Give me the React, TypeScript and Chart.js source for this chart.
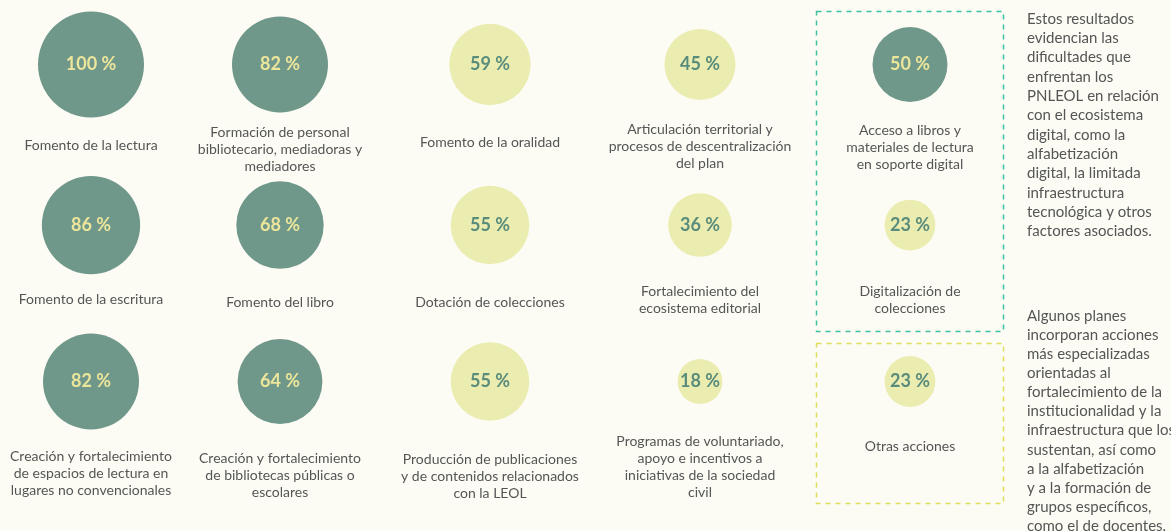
import React, { useEffect, useRef } from "react";
import { Chart, registerables } from "chart.js";
Chart.register(...registerables);

// ---- data ----
const categories: string[] = [
  "Fomento de la lectura",
  "Formación de personal\nbibliotecario, mediadoras y\nmediadores",
  "Fomento de la oralidad",
  "Articulación territorial y\nprocesos de descentralización\ndel plan",
  "Acceso a libros y\nmateriales de lectura\nen soporte digital",
  "Fomento de la escritura",
  "Fomento del libro",
  "Dotación de colecciones",
  "Fortalecimiento del\necosistema editorial",
  "Digitalización de\ncolecciones",
  "Creación y fortalecimiento\nde espacios de lectura en\nlugares no convencionales",
  "Creación y fortalecimiento\nde bibliotecas públicas o\nescolares",
  "Producción de publicaciones\ny de contenidos relacionados\ncon la LEOL",
  "Programas de voluntariado,\napoyo e incentivos a\niniciativas de la sociedad\ncivil",
  "Otras acciones",
];
const values: number[] = [100, 82, 59, 45, 50, 86, 68, 55, 36, 23, 82, 64, 55, 18, 23];
const columnIndex: number[] = [0, 1, 2, 3, 4, 0, 1, 2, 3, 4, 0, 1, 2, 3, 4];
const rowIndex: number[] = [0, 0, 0, 0, 0, 1, 1, 1, 1, 1, 2, 2, 2, 2, 2];
const group: string[] = [
  "dark", "dark", "light", "light", "dark",
  "dark", "dark", "light", "light", "light",
  "dark", "dark", "light", "light", "light",
];

const noteDigital: string[] = [
  "Estos resultados",
  "evidencian las",
  "dificultades que",
  "enfrentan los",
  "PNLEOL en relación",
  "con el ecosistema",
  "digital, como la",
  "alfabetización",
  "digital, la limitada",
  "infraestructura",
  "tecnológica y otros",
  "factores asociados.",
];
const noteInstitutional: string[] = [
  "Algunos planes",
  "incorporan acciones",
  "más especializadas",
  "orientadas al",
  "fortalecimiento de la",
  "institucionalidad y la",
  "infraestructura que los",
  "sustentan, así como",
  "a la alfabetización",
  "y a la formación de",
  "grupos específicos,",
  "como el de docentes.",
];

// ---- layout / style ----
const W = 1171;
const H = 531;
const BG = "#fcfcf5";
const DARK = "#6f978a";
const LIGHT = "#ebedb0";
const DARK_TEXT = "#ebe69b";
const LIGHT_TEXT = "#5a8c7b";
const LABEL = "#555555";
const TEAL = "#3fbf9f";
const YELLOW = "#dede5a";
const FONT = "Lato, 'Noto Sans', sans-serif";
const COL_SLOTS = [0, 0.9, 1.9, 2.9, 3.9];
const ROW_SLOTS = [0, 1.013, 2];
const COL_PX = 210;
const ROW_PX = 158.5;
const labelDy = [80.5, 84.5, 77.5, 82, 82.5, 74, 77, 77, 74.5, 74.5, 91.5, 93.5, 94.5, 85, 64.5];
const radiusFor = (v: number) => 5.3 * Math.sqrt(v);
const OVERFLOW = Math.max(...values.map(radiusFor)); // bubble controller pads chart area by max radius

const makeData = (g: string) =>
  values
    .map((v, i) => ({ x: COL_SLOTS[columnIndex[i]], y: ROW_SLOTS[rowIndex[i]], r: radiusFor(v), v, i }))
    .filter((d) => group[d.i] === g);

const overlay = {
  id: "overlay",
  beforeDraw(chart: any) {
    const { ctx } = chart;
    ctx.save();
    ctx.fillStyle = BG;
    ctx.fillRect(0, 0, chart.width, chart.height);
    ctx.restore();
  },
  afterDatasetsDraw(chart: any) {
    const { ctx } = chart;
    const xs = chart.scales.x;
    const ys = chart.scales.y;
    ctx.save();
    // dashed boxes around the last column
    const cx4 = xs.getPixelForValue(COL_SLOTS[4]);
    ctx.lineWidth = 1.5;
    ctx.setLineDash([5, 5]);
    ctx.strokeStyle = TEAL;
    ctx.strokeRect(Math.round(cx4 - 94) + 0.5, 11.5, 187, 320);
    ctx.strokeStyle = YELLOW;
    ctx.strokeRect(Math.round(cx4 - 94) + 0.5, 343.5, 187, 160);
    ctx.setLineDash([]);

    values.forEach((v, i) => {
      const px = xs.getPixelForValue(COL_SLOTS[columnIndex[i]]);
      const py = ys.getPixelForValue(ROW_SLOTS[rowIndex[i]]);
      // value label
      ctx.font = `bold 18px ${FONT}`;
      ctx.textAlign = "center";
      ctx.textBaseline = "middle";
      ctx.fillStyle = group[i] === "dark" ? DARK_TEXT : LIGHT_TEXT;
      ctx.fillText(`${v} %`, px, py);
      // category label
      const lines = categories[i].split("\n");
      const lh = 17;
      const cy = py + labelDy[i];
      ctx.font = `14px ${FONT}`;
      ctx.fillStyle = LABEL;
      lines.forEach((ln, k) => {
        ctx.fillText(ln, px, cy + (k - (lines.length - 1) / 2) * lh);
      });
    });

    // side notes
    ctx.font = `15px ${FONT}`;
    ctx.textAlign = "left";
    ctx.textBaseline = "middle";
    ctx.fillStyle = LABEL;
    noteDigital.forEach((ln, k) => ctx.fillText(ln, 1027, 19 + k * 19.3));
    noteInstitutional.forEach((ln, k) => ctx.fillText(ln, 1027, 316 + k * 19.1));
    ctx.restore();
  },
};

export default function App() {
  const ref = useRef<HTMLCanvasElement>(null);
  useEffect(() => {
    if (!ref.current) return;
    const P = OVERFLOW;
    const xMin = -(91 - P) / COL_PX;
    const yMin = -(64.5 - P) / ROW_PX;
    const chart = new Chart(ref.current, {
      type: "bubble",
      data: {
        datasets: [
          { label: "dark", data: makeData("dark") as any, backgroundColor: DARK, borderWidth: 0, clip: false } as any,
          { label: "light", data: makeData("light") as any, backgroundColor: LIGHT, borderWidth: 0, clip: false } as any,
        ],
      },
      options: {
        animation: false,
        responsive: false,
        events: [],
        layout: { padding: 0 },
        plugins: { legend: { display: false }, tooltip: { enabled: false } },
        scales: {
          x: { type: "linear", display: false, min: xMin, max: xMin + (W - 2 * P) / COL_PX },
          y: { type: "linear", display: false, reverse: true, min: yMin, max: yMin + (H - 2 * P) / ROW_PX },
        },
      },
      plugins: [overlay],
    });
    return () => chart.destroy();
  }, []);
  return (
    <div style={{ position: "fixed", left: 0, top: 0, width: W, height: H, background: BG }}>
      <canvas ref={ref} width={W} height={H} style={{ width: W, height: H, display: "block" }} />
    </div>
  );
}
